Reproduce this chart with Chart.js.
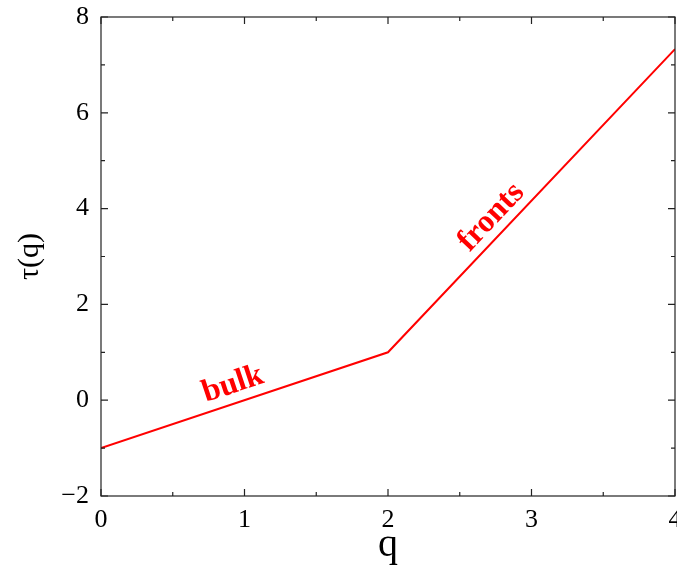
<!DOCTYPE html>
<html>
<head>
<meta charset="utf-8">
<script src="https://cdn.jsdelivr.net/npm/chart.js@4/dist/chart.umd.min.js"></script>
<style>
  html, body { margin: 0; padding: 0; background: #fff; }
  #wrap { width: 677px; height: 569px; position: relative; }
</style>
</head>
<body>
<div id="wrap"><canvas id="c"></canvas></div>
<script>
// ---- data ----
const qValues = [0, 2, 4];
const tauValues = [-1, 1, 7.33];
const xTicks = [0, 1, 2, 3, 4];
const yTicks = [-2, 0, 2, 4, 6, 8];
const annotations = [
  { text: 'bulk', q: 0.92, tau: 0.33, seg: [0, 1] },
  { text: 'fronts', q: 2.72, tau: 3.82, seg: [1, 2] }
];

const SERIF = "'Liberation Serif', 'Times New Roman', Times, serif";

const framePlugin = {
  id: 'frameTicks',
  afterDraw(chart) {
    const { ctx, chartArea: a, scales: { x, y } } = chart;
    ctx.save();
    ctx.strokeStyle = '#222';
    ctx.lineWidth = 1.2;
    ctx.strokeRect(a.left, a.top, a.right - a.left, a.bottom - a.top);
    ctx.beginPath();
    for (let v = xTicks[0]; v <= xTicks[xTicks.length - 1] + 1e-9; v += 0.5) {
      const px = x.getPixelForValue(v);
      const len = Number.isInteger(v) ? 7 : 4;
      ctx.moveTo(px, a.bottom); ctx.lineTo(px, a.bottom - len);
      ctx.moveTo(px, a.top); ctx.lineTo(px, a.top + len);
    }
    for (let v = yTicks[0]; v <= yTicks[yTicks.length - 1] + 1e-9; v += 1) {
      const py = y.getPixelForValue(v);
      const len = (v % 2 === 0) ? 7 : 4;
      ctx.moveTo(a.left, py); ctx.lineTo(a.left + len, py);
      ctx.moveTo(a.right, py); ctx.lineTo(a.right - len, py);
    }
    ctx.stroke();

    // text annotations along segments
    ctx.fillStyle = '#ff0000';
    ctx.font = 'bold 32px ' + SERIF;
    ctx.textAlign = 'center';
    ctx.textBaseline = 'middle';
    annotations.forEach(an => {
      const i0 = an.seg[0], i1 = an.seg[1];
      const x0 = x.getPixelForValue(qValues[i0]), y0 = y.getPixelForValue(tauValues[i0]);
      const x1 = x.getPixelForValue(qValues[i1]), y1 = y.getPixelForValue(tauValues[i1]);
      const ang = Math.atan2(y1 - y0, x1 - x0);
      ctx.save();
      ctx.translate(x.getPixelForValue(an.q), y.getPixelForValue(an.tau));
      ctx.rotate(ang);
      ctx.fillText(an.text, 0, 0);
      ctx.restore();
    });
    ctx.restore();
  }
};

new Chart(document.getElementById('c'), {
  type: 'scatter',
  data: {
    datasets: [{
      data: qValues.map((q, i) => ({ x: q, y: tauValues[i] })),
      showLine: true,
      borderColor: '#ff0000',
      borderWidth: 2,
      pointRadius: 0,
      fill: false,
      tension: 0
    }]
  },
  options: {
    responsive: true,
    maintainAspectRatio: false,
    animation: false,
    layout: { padding: { top: 17, right: 2, left: 0, bottom: 0 } },
    plugins: { legend: { display: false }, tooltip: { enabled: false } },
    scales: {
      x: {
        type: 'linear',
        min: 0, max: 4,
        grid: { display: false, drawTicks: false },
        border: { display: false },
        ticks: {
          stepSize: 1,
          color: '#000',
          padding: 9,
          maxRotation: 0,
          font: { family: SERIF, size: 26 },
          callback: v => xTicks.includes(v) ? String(v) : ''
        },
        title: {
          display: true, text: 'q', color: '#000',
          font: { family: SERIF, size: 40 },
          padding: { top: 0, bottom: 0 }
        },
        afterFit(s) { s.height = 73; s.paddingLeft = 0; s.paddingRight = 0; }
      },
      y: {
        type: 'linear',
        min: -2, max: 8,
        grid: { display: false, drawTicks: false },
        border: { display: false },
        ticks: {
          stepSize: 2,
          color: '#000',
          padding: 12,
          font: { family: SERIF, size: 26 },
          callback: v => yTicks.includes(v) ? (v < 0 ? '\u2212' + Math.abs(v) : String(v)) : ''
        },
        title: {
          display: true, text: 'τ(q)', color: '#000',
          font: { family: SERIF, size: 30 },
          padding: { top: 12, bottom: 0 }
        },
        afterFit(s) { s.width = 101; s.paddingTop = 0; s.paddingBottom = 0; }
      }
    }
  },
  plugins: [framePlugin]
});
</script>
</body>
</html>
